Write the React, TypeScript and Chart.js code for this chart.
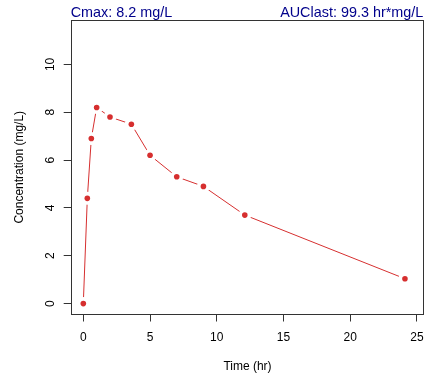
import { useEffect, useRef } from "react";
import { Chart, registerables } from "chart.js";

Chart.register(...registerables);

const timeHr = [0, 0.3, 0.6, 1, 2, 3.6, 5, 7, 9, 12.1, 24.1];
const concMgL = [0, 4.4, 6.9, 8.2, 7.8, 7.5, 6.2, 5.3, 4.9, 3.7, 1.04];
const xTickValues = [0, 5, 10, 15, 20, 25];
const yTickValues = [0, 2, 4, 6, 8, 10];
const cmaxLabel = "Cmax: 8.2 mg/L";
const auclastLabel = "AUClast: 99.3 hr*mg/L";
const xTitle = "Time (hr)";
const yTitle = "Concentration (mg/L)";

const FONT = "'Liberation Sans', Arial, Helvetica, sans-serif";
const RED = "#D62F2F";
const AXIS = "#333333";
const HEADER = "#00008B";

const W = 427;
const H = 377;

function zeroPad(s: any) {
  s.paddingLeft = 0;
  s.paddingRight = 0;
  s.paddingTop = 0;
  s.paddingBottom = 0;
}

export default function App() {
  const ref = useRef<HTMLCanvasElement | null>(null);

  useEffect(() => {
    if (!ref.current) return;
    const points = timeHr.map((t, i) => ({ x: t, y: concMgL[i] }));

    const boxPlugin = {
      id: "rbox",
      afterDraw(chart: any) {
        const { ctx, chartArea: a } = chart;
        ctx.save();
        ctx.strokeStyle = AXIS;
        ctx.lineWidth = 1;
        const l = Math.round(a.left) + 0.5;
        const t = Math.round(a.top) + 0.5;
        const r = Math.round(a.right) - 0.5;
        const b = Math.round(a.bottom) - 0.5;
        ctx.strokeRect(l, t, r - l, b - t);
        ctx.fillStyle = HEADER;
        ctx.font = `14.4px ${FONT}`;
        ctx.textBaseline = "alphabetic";
        ctx.textAlign = "left";
        ctx.fillText(cmaxLabel, a.left, 17.3);
        ctx.textAlign = "right";
        ctx.fillText(auclastLabel, a.right - 1, 17.3);
        ctx.restore();
      },
    };

    const chart = new Chart(ref.current, {
      type: "line",
      data: {
        datasets: [
          {
            label: "dots",
            data: points,
            showLine: false,
            pointRadius: 2.8,
            pointBackgroundColor: RED,
            pointBorderWidth: 0,
            order: 0,
          },
          {
            label: "line",
            data: points,
            borderColor: RED,
            borderWidth: 1,
            pointRadius: 6.5,
            pointBackgroundColor: "#ffffff",
            pointBorderWidth: 0,
            tension: 0,
            order: 1,
          },
        ],
      },
      options: {
        responsive: false,
        animation: false,
        events: [],
        layout: { autoPadding: false, padding: { top: 20, right: 2.7, left: 0, bottom: 0 } },
        plugins: {
          legend: { display: false },
          title: { display: false },
          tooltip: { enabled: false },
        },
        scales: {
          x: {
            type: "linear",
            position: "bottom",
            min: -0.945,
            max: 25.55,
            afterBuildTicks: (s: any) => {
              s.ticks = xTickValues.map((v) => ({ value: v }));
            },
            afterFit: (s: any) => {
              s.height = 62.5;
              zeroPad(s);
            },
            grid: {
              display: true,
              drawOnChartArea: false,
              drawTicks: true,
              tickLength: 7,
              tickColor: AXIS,
              color: AXIS,
            },
            border: { display: false },
            ticks: {
              color: "#000",
              padding: 9.4,
              maxRotation: 0,
              minRotation: 0,
              font: { family: FONT, size: 12 },
            },
            title: {
              display: true,
              text: xTitle,
              color: "#000",
              font: { family: FONT, size: 12 },
              padding: { top: 0, bottom: 2.8 },
            },
          },
          y: {
            type: "linear",
            position: "left",
            min: -0.456,
            max: 11.856,
            afterBuildTicks: (s: any) => {
              s.ticks = yTickValues.map((v) => ({ value: v }));
            },
            afterFit: (s: any) => {
              s.width = 70.7;
              zeroPad(s);
            },
            grid: {
              display: true,
              drawOnChartArea: false,
              drawTicks: true,
              tickLength: 7,
              tickColor: AXIS,
              color: AXIS,
            },
            border: { display: false },
            ticks: {
              color: "#000",
              padding: 6.5,
              minRotation: 90,
              maxRotation: 90,
              crossAlign: "center",
              font: { family: FONT, size: 12 },
            },
            title: {
              display: true,
              text: yTitle,
              color: "#000",
              font: { family: FONT, size: 12 },
              padding: { top: 12.8, bottom: 0 },
            },
          },
        },
      },
      plugins: [boxPlugin],
    } as any);

    return () => chart.destroy();
  }, []);

  return (
    <div style={{ position: "fixed", left: 0, top: 0, width: W, height: H, background: "#fff" }}>
      <canvas ref={ref} width={W} height={H} style={{ width: W, height: H, display: "block" }} />
    </div>
  );
}
